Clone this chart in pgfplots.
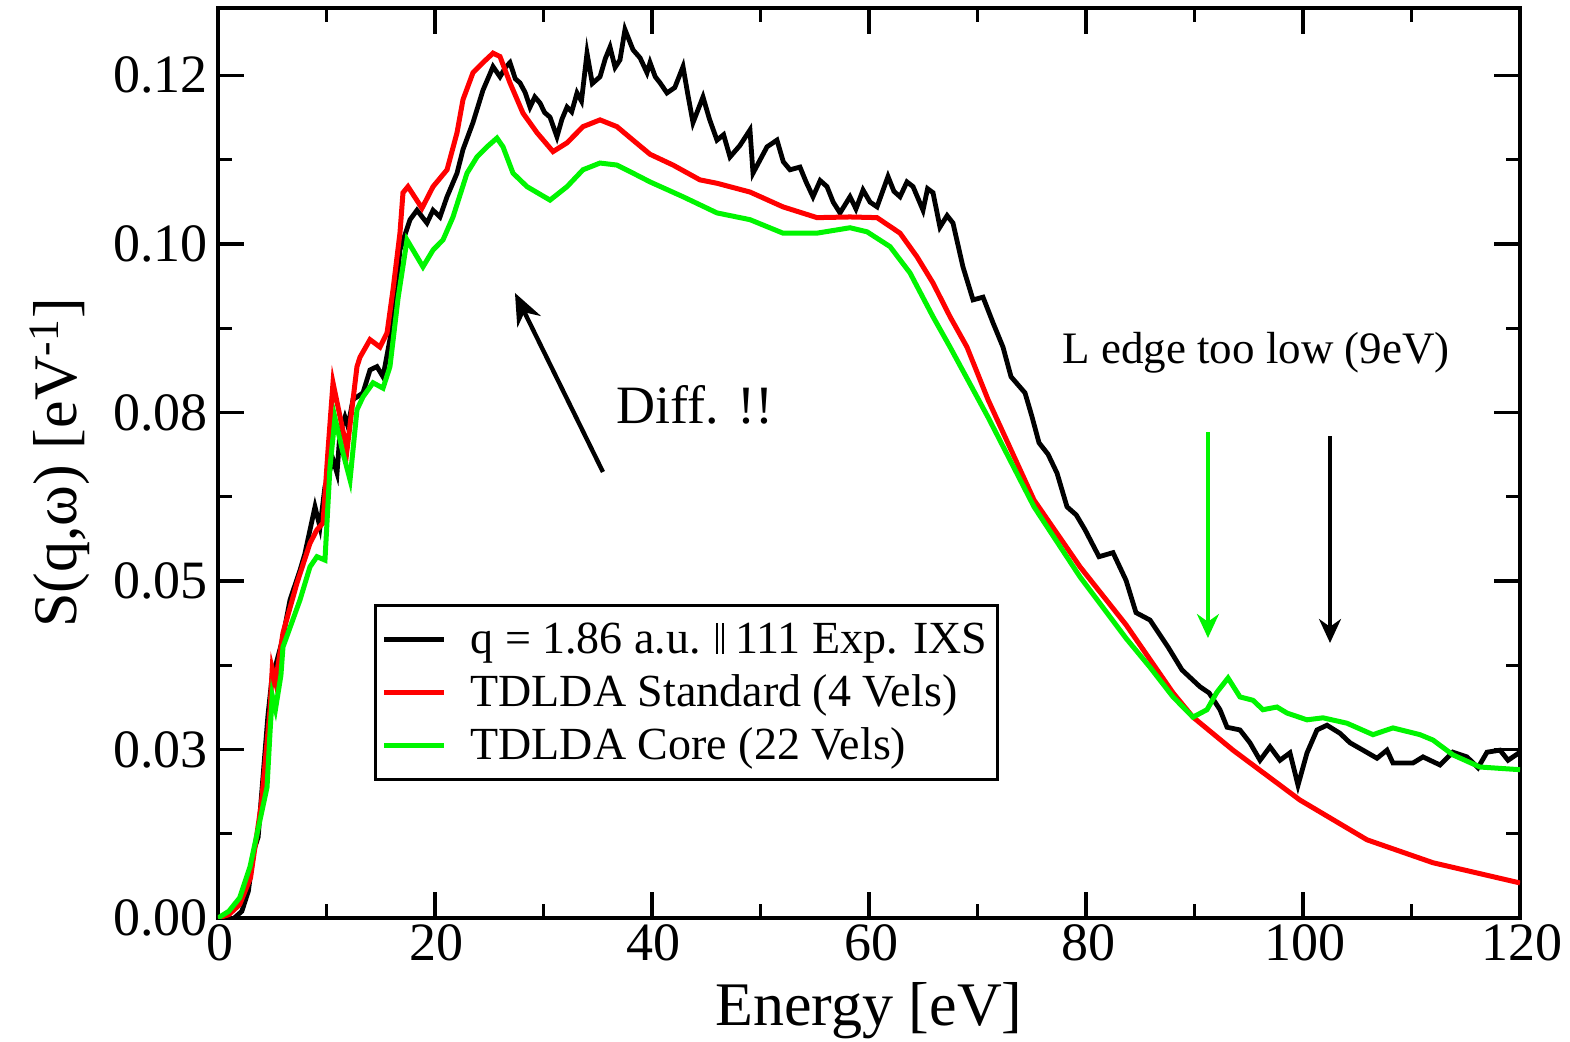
\documentclass[border=0pt]{standalone}
\usepackage{fontspec}
\setmainfont{Liberation Serif}
\usepackage{pgfplots}
\pgfplotsset{compat=1.18}
\usetikzlibrary{calc,arrows.meta}
\definecolor{myred}{RGB}{255,0,0}
\definecolor{mygreen}{RGB}{0,245,0}
\newcommand{\dbar}{\rule{0.9pt}{0.68em}\hspace{2pt}\rule{0.9pt}{0.68em}}
\begin{document}
\begin{tikzpicture}
\begin{axis}[
  name=ax,
  scale only axis,
  width=651pt, height=455pt,
  xmin=0, xmax=120, ymin=0, ymax=0.135,
  xtick={0,20,40,60,80,100,120},
  xticklabels={0,20,40,60,80,100,120},
  minor xtick={10,30,50,70,90,110},
  ytick={0,0.025,0.05,0.075,0.1,0.125},
  yticklabels={0.00,0.03,0.05,0.08,0.10,0.12},
  minor ytick={0.0125,0.0375,0.0625,0.0875,0.1125},
  tick align=inside,
  major tick length=13pt,
  minor tick length=7pt,
  every tick/.style={black, line width=1.6pt},
  axis line style={line width=2pt},
  tick label style={font=\fontsize{27}{32}\selectfont},
  yticklabel style={xshift=-1.5pt},
  xticklabel style={xshift=1pt},
  label style={font=\fontsize{31}{36}\selectfont},
  xlabel={Energy [eV]},
  ylabel={S(q,ω) [eV\textsuperscript{-1}]},
  xlabel style={yshift=-3.5pt},
  ylabel style={yshift=5pt},
  legend style={at={(0.1198,0.345)}, anchor=north west, draw=black, line width=1.6pt,
    font=\fontsize{23}{27}\selectfont, cells={anchor=west}, inner xsep=3pt, inner ysep=6.5pt,
    row sep=5pt},
  legend image code/.code={\draw[#1] (0pt,0pt) -- (30pt,0pt); \path (40pt,0pt);},
]
\addplot[black, line width=2.4pt] coordinates {
(1.5,0) (2.2,0.001) (2.8,0.004) (3.3,0.010) (3.7,0.012) (4.2,0.022) (4.6,0.030) (5.0,0.036) (5.4,0.038) (5.9,0.041)
(6.64,0.0472) (7.56,0.0516) (8.0,0.054) (8.94,0.061) (9.4,0.058) (9.86,0.064) (10.6,0.068) (10.97,0.066) (11.24,0.072)
(11.7,0.0743) (11.98,0.0729) (12.44,0.0769) (13.36,0.0779) (14.01,0.0813) (14.65,0.0818) (15.21,0.0803) (16.13,0.0883)
(16.77,0.0991) (17.7,0.1036) (18.34,0.105) (19.26,0.1031) (19.82,0.105) (20.46,0.104) (21.11,0.107) (22.03,0.1105)
(22.58,0.114) (23.5,0.118) (24.42,0.1228) (25.35,0.1263) (25.99,0.1248) (26.5,0.1262) (26.91,0.1269) (27.4,0.1245) (27.83,0.1239) (28.3,0.1225) (28.76,0.1203)
(29.2,0.1218) (29.68,0.1209) (30.1,0.1195) (30.6,0.1188) (31.24,0.1159) (31.7,0.1185) (32.17,0.1203) (32.6,0.1196) (33.09,0.1224) (33.5,0.1212) (34.01,0.1283) (34.5,0.1238) (35.21,0.1248) (35.7,0.1275) (36.13,0.1292)
(36.6,0.1262) (37.05,0.1273) (37.51,0.1318) (38.25,0.1288) (38.9,0.1276) (39.54,0.1254) (39.82,0.1269) (40.3,0.1248) (40.74,0.1239) (41.38,0.1224) (42.1,0.1232) (42.86,0.1263)
(43.3,0.1222) (43.78,0.118) (44.7,0.1218) (45.3,0.1185) (45.99,0.1154) (46.6,0.1162) (47.19,0.1129) (48.1,0.1146) (49.03,0.1169) (49.31,0.1105) (50.6,0.1144) (51.52,0.1154)
(52.1,0.1122) (52.72,0.111) (53.64,0.1114) (54.2,0.1092) (54.84,0.107) (55.5,0.1094) (56.13,0.1085) (56.7,0.1062) (57.33,0.1046) (58.25,0.107) (58.8,0.1052) (59.45,0.108) (60.1,0.1062) (60.74,0.1055)
(61.75,0.11) (62.3,0.1078) (62.86,0.107) (63.5,0.1092) (64.06,0.1085) (64.98,0.105) (65.4,0.1082) (65.9,0.1076) (66.54,0.1025) (67.2,0.1042) (67.74,0.1031) (68.66,0.0966)
(69.59,0.0917) (70.51,0.0921) (71.43,0.0883) (72.35,0.0847) (73.09,0.0803) (74.38,0.0779) (75.0,0.0745) (75.67,0.0705) (76.5,0.0688) (77.33,0.066)
(78.25,0.061) (79.1,0.0598) (79.91,0.0576) (81.2,0.0536) (82.49,0.0542) (83.69,0.0501) (84.61,0.0453) (85.9,0.0442) (87.56,0.0402)
(88.85,0.0368) (90.51,0.0343) (91.34,0.0334) (92.35,0.0309) (93.0,0.0283) (94.19,0.0279) (95.11,0.026) (96.04,0.0234)
(96.96,0.0254) (97.88,0.0234) (98.8,0.0245) (99.54,0.0197) (100.37,0.0245) (101.29,0.0279) (102.21,0.0286) (103.41,0.0274)
(104.33,0.026) (105.53,0.0249) (106.82,0.0237) (107.74,0.0249) (108.29,0.023) (110.14,0.023) (111.06,0.0239) (112.63,0.0227)
(113.82,0.0246) (115.11,0.0239) (116.13,0.0223) (116.96,0.0246) (118.16,0.0249) (118.9,0.0234) (120,0.0246)
};
\addlegendentry{q = 1.86 a.u. \dbar\ 111 Exp. IXS}
\addplot[myred, line width=2.5pt] coordinates {
(0,0) (1,0.0005) (2,0.002) (3,0.006) (4,0.017) (4.8,0.031) (5.0,0.037) (5.3,0.035) (5.99,0.0423) (7.28,0.0497)
(8.48,0.0556) (9.12,0.0576) (9.68,0.0586) (10.14,0.0694) (10.6,0.0794) (11.89,0.0694) (12.81,0.0818) (13.09,0.0832)
(14.01,0.0858) (14.93,0.0847) (15.58,0.0868) (16.13,0.0932) (16.77,0.1016) (17.05,0.1076) (17.51,0.1085) (18.8,0.1053)
(19.82,0.1085) (21.11,0.111) (22.03,0.1165) (22.58,0.1214) (23.5,0.1254) (24.42,0.1269) (25.35,0.1283) (25.99,0.1278)
(26.91,0.1239) (28.11,0.1194) (29.4,0.1165) (30.88,0.1137) (32.17,0.115) (33.64,0.1174) (35.21,0.1184) (36.77,0.1174)
(38.25,0.1154) (39.82,0.1133) (41.94,0.1117) (44.42,0.1095) (45.99,0.109) (49.03,0.1077) (52.07,0.1055) (55.21,0.1039)
(58.25,0.104) (60.74,0.1039) (62.86,0.1016) (64.42,0.0981) (65.9,0.0942) (67.47,0.0892) (69.03,0.0847) (70.97,0.0769)
(75.21,0.062) (79.45,0.0521) (83.69,0.0435) (88.02,0.0334) (89.86,0.0298) (93.55,0.0249) (99.72,0.0175) (105.9,0.0116)
(111.98,0.0082) (120,0.0052)
};
\addlegendentry{TDLDA Standard (4 Vels)}
\addplot[mygreen, line width=2.5pt] coordinates {
(0,0) (1,0.001) (2,0.003) (2.95,0.0076) (4.52,0.0194) (4.79,0.0274) (5.0,0.033) (5.3,0.031) (5.8,0.036) (5.99,0.0402)
(7.56,0.0472) (8.48,0.0521) (9.12,0.0536) (9.86,0.0531) (10.32,0.0669) (10.78,0.0742) (11.52,0.069) (12.17,0.065)
(12.81,0.0754) (13.36,0.0773) (14.29,0.0794) (15.21,0.0786) (15.85,0.0818) (16.6,0.092) (17.42,0.1006) (18.34,0.0981)
(18.89,0.0966) (19.82,0.0991) (20.74,0.1006) (21.66,0.104) (22.95,0.1105) (23.87,0.1129) (24.79,0.1144) (25.71,0.1157)
(26.27,0.1144) (27.19,0.1105) (28.48,0.1085) (30.6,0.1065) (32.17,0.1085) (33.64,0.111) (35.21,0.112) (36.77,0.1117)
(38.25,0.1105) (39.82,0.1092) (42.86,0.107) (45.99,0.1046) (49.03,0.1036) (52.07,0.1016) (55.21,0.1016) (58.25,0.1024)
(59.82,0.1018) (61.94,0.0996) (63.78,0.0957) (65.9,0.0892) (67.47,0.0847) (70.97,0.0743) (75.21,0.061) (79.45,0.0506)
(83.69,0.0415) (85.9,0.0372) (88.02,0.0328) (89.86,0.0298) (91.15,0.0309) (92.07,0.0335) (93.09,0.0356) (94.19,0.0328)
(95.39,0.0323) (96.31,0.0309) (97.6,0.0313) (98.53,0.0304) (100.37,0.0294) (101.84,0.0297) (104.05,0.0289) (106.45,0.0272)
(108.29,0.0282) (110.78,0.0272) (111.98,0.0264) (113.82,0.0242) (116.31,0.0224) (120,0.022)
};
\addlegendentry{TDLDA Core (22 Vels)}
\draw[-{Stealth[length=16pt,width=13pt]}, line width=2.2pt] (axis cs:35.48,0.06617) -- (axis cs:27.37,0.09273);
\node[font=\fontsize{27}{32}\selectfont] at (axis cs:43.96,0.0761) {Diff. !!};
\node[font=\fontsize{22.5}{27}\selectfont] at (axis cs:95.67,0.0838) {L edge too low (9eV)};
\draw[-{Stealth[length=12pt,width=11pt]}, mygreen, line width=1.6pt] (axis cs:91.24,0.0721) -- (axis cs:91.24,0.04154);
\draw[-{Stealth[length=12pt,width=11pt]}, black, line width=1.6pt] (axis cs:102.49,0.0715) -- (axis cs:102.49,0.0408);
\end{axis}
\pgfresetboundingbox
\path[use as bounding box] ($(ax.south west)+(-109pt,-61.5pt)$) rectangle ($(ax.north east)+(25pt,4pt)$);
\end{tikzpicture}
\end{document}
